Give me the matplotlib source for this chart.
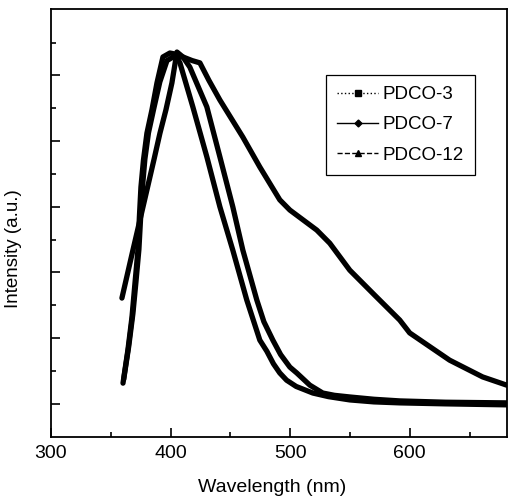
import matplotlib
matplotlib.use("Agg")
import matplotlib.pyplot as plt
from matplotlib.lines import Line2D
from matplotlib.ticker import FixedLocator, MultipleLocator

plt.rcParams['font.family'] = ['Liberation Sans', 'DejaVu Sans']

# PDCO-3
wl_3 = [360.2, 364.3, 367.7, 370.2, 372.7, 373.9, 375.2, 377.3, 380.2, 384.4, 388.6,
        393.6, 399.4, 403.6, 407.8, 418.6, 430.3, 441.2, 452.0, 463.7, 474.6, 480.5,
        486.0, 491.3, 497.0, 505.0, 518.9, 532.0, 549.8, 570.0, 591.6, 630.0, 681.0]
int_3 = [1.63, 2.64, 3.64, 4.67, 5.68, 6.69, 7.60, 8.42, 9.24, 9.95, 10.77,
         11.56, 11.68, 11.65, 11.38, 10.04, 8.52, 7.00, 5.68, 4.16, 2.94, 2.60,
         2.22, 1.94, 1.72, 1.53, 1.33, 1.22, 1.12, 1.06, 1.03, 1.00, 0.97]

# PDCO-7
wl_7 = [360.8, 365.0, 368.5, 371.0, 373.5, 375.0, 376.5, 378.5, 381.5, 386.0, 391.0,
        397.0, 404.0, 411.0, 418.0, 424.5, 432.0, 441.2, 460.4, 474.6, 491.3, 499.7,
        522.2, 533.1, 549.8, 570.6, 591.6, 599.9, 633.3, 660.9, 681.0]
int_7 = [1.75, 2.75, 3.75, 4.70, 5.70, 6.70, 7.60, 8.45, 9.25, 10.00, 10.80,
         11.45, 11.60, 11.55, 11.45, 11.38, 10.85, 10.25, 9.12, 8.21, 7.21, 6.90,
         6.29, 5.89, 5.07, 4.31, 3.55, 3.16, 2.33, 1.82, 1.57]

# PDCO-12
wl_12 = [359.3, 368.5, 374.4, 380.2, 386.0, 391.1, 396.1, 401.1, 405.3, 410.3, 416.1,
         430.3, 441.2, 452.0, 460.4, 472.1, 478.0, 485.5, 492.0, 499.7, 505.5, 516.4,
         527.2, 537.0, 549.8, 570.0, 591.6, 630.0, 681.0]
int_12 = [4.22, 5.68, 6.60, 7.51, 8.42, 9.24, 9.95, 10.77, 11.71, 11.56, 11.25,
          10.04, 8.52, 7.00, 5.68, 4.16, 3.50, 2.94, 2.50, 2.12, 1.94, 1.57,
          1.33, 1.26, 1.21, 1.14, 1.09, 1.05, 1.03]

labels = ["PDCO-3", "PDCO-7", "PDCO-12"]

fig = plt.figure(figsize=(5.12, 4.97), dpi=100)
ax = fig.add_axes([0.0996, 0.1213, 0.89, 0.8606])

for x, y in [(wl_3, int_3), (wl_7, int_7), (wl_12, int_12)]:
    ax.plot(x, y, color="black", lw=3.8, solid_capstyle="round", solid_joinstyle="round")

ax.set_xlim(300, 681)
ax.set_ylim(0, 13.02)

ax.xaxis.set_major_locator(MultipleLocator(100))
ax.xaxis.set_minor_locator(MultipleLocator(50))
ax.yaxis.set_major_locator(FixedLocator([1, 3, 5, 7, 9, 11]))
ax.yaxis.set_minor_locator(FixedLocator([2, 4, 6, 8, 10, 12]))
ax.tick_params(which="both", direction="in", top=False, right=False, width=1.2)
ax.tick_params(which="major", length=6.5)
ax.tick_params(which="minor", length=3.5)
ax.tick_params(axis="x", labelsize=14, pad=6)
ax.tick_params(axis="y", labelleft=False)
for s in ax.spines.values():
    s.set_linewidth(1.3)

ax.set_xlabel("Wavelength (nm)", fontsize=14)
ax.xaxis.set_label_coords(0.485, -0.1)
ax.set_ylabel("Intensity (a.u.)", fontsize=13.5)
ax.yaxis.set_label_coords(-0.064, 0.44)

handles = [
    Line2D([], [], color="black", lw=1, ls=":", marker="s", ms=4),
    Line2D([], [], color="black", lw=1, ls="-", marker="D", ms=3.5),
    Line2D([], [], color="black", lw=1, ls="--", marker="^", ms=4.5),
]
leg = ax.legend(handles, labels, loc="upper left", bbox_to_anchor=(0.603, 0.846),
                borderaxespad=0, fontsize=13.5, frameon=True, fancybox=False,
                edgecolor="black", framealpha=1, handlelength=2.2, handletextpad=0.2,
                labelspacing=0.7, borderpad=0.6)
leg.get_frame().set_linewidth(0.9)

fig.savefig("out.png", dpi=100)
